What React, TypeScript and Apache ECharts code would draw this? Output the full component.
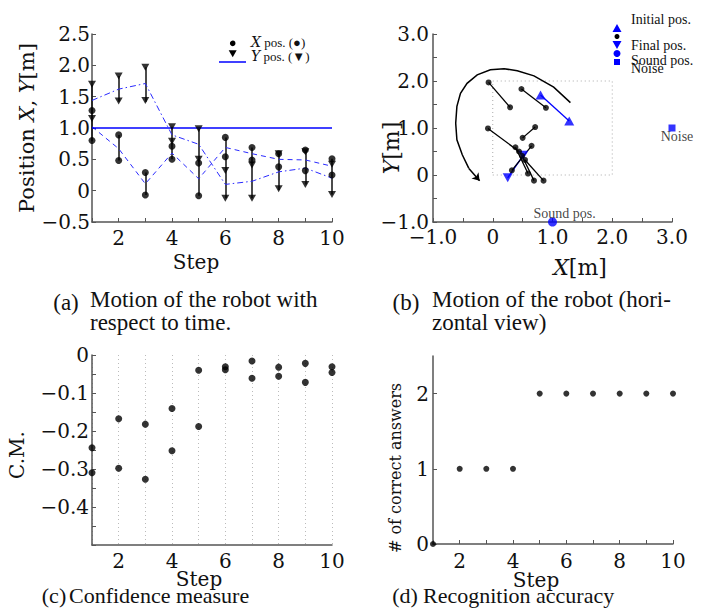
import React, { useEffect, useRef } from "react";
import * as echarts from "echarts";

// ---------- data ----------
const steps = [1, 2, 3, 4, 5, 6, 7, 8, 9, 10];
const stepLabels = [2, 4, 6, 8, 10];
// two estimated positions per step: A = (xPosA, yPosA), B = (xPosB, yPosB)
const xPosA = [0.8, 0.48, -0.07, 0.5, -0.08, 0.54, 0.49, 0.38, 0.65, 0.51];
const yPosA = [1.7, 1.83, 1.97, 0.79, 0.99, 0.32, 0.41, 0.59, 0.62, 0.42];
const xPosB = [1.28, 0.89, 0.29, 0.71, 0.44, 0.85, 0.69, 0.59, 0.32, 0.25];
const yPosB = [1.15, 1.43, 1.44, 1.02, 0.5, -0.12, -0.12, 0.03, 0.1, -0.06];
// blue broken lines of panel (a)
const xMeanLine = [1.02, 0.67, 0.11, 0.6, 0.19, 0.69, 0.59, 0.5, 0.49, 0.39];
const yMeanLine = [1.44, 1.62, 1.71, 0.89, 0.74, 0.1, 0.15, 0.3, 0.36, 0.2];
const refLevel = 1.0;
// vertical bars of panel (a): [step, low, high]
const errorBars: [number, number, number][] = [
  [1, 0.79, 1.69],
  [2, 1.42, 1.83],
  [2, 0.48, 0.89],
  [3, 1.42, 1.97],
  [3, -0.07, 0.29],
  [4, 0.5, 1.02],
  [5, -0.08, 0.99],
  [6, -0.12, 0.85],
  [7, -0.12, 0.69],
  [8, 0.01, 0.59],
  [9, 0.1, 0.65],
  [10, -0.06, 0.51],
];
// curved arrow of panel (b)
const arcX = [1.3, 1.02, 0.69, 0.41, 0.19, -0.04, -0.26, -0.43, -0.54, -0.6, -0.62, -0.6, -0.51, -0.4, -0.22];
const arcY = [1.54, 1.87, 2.11, 2.22, 2.26, 2.24, 2.13, 1.95, 1.74, 1.46, 1.1, 0.75, 0.43, 0.14, -0.12];
const boxX = [0, 2, 2, 0, 0];
const boxY = [0, 0, 2, 2, 0];
const soundPos = [1.0, -1.0];
const noisePos = [3.0, 1.0];
// panel (c)
const cmA = [-0.244, -0.168, -0.182, -0.141, -0.04, -0.031, -0.016, -0.032, -0.022, -0.031];
const cmB = [-0.31, -0.298, -0.327, -0.252, -0.188, -0.039, -0.061, -0.056, -0.072, -0.046];
// panel (d)
const correct = [0, 1, 1, 1, 2, 2, 2, 2, 2, 2];

// tick / label values
const yTicksA = [-0.5, 0, 0.5, 1, 1.5, 2, 2.5];
const ticksB = [-1, -0.5, 0, 0.5, 1, 1.5, 2, 2.5, 3];
const labelsB = [-1, 0, 1, 2, 3];
const yTicksC = [-0.5, -0.45, -0.4, -0.35, -0.3, -0.25, -0.2, -0.15, -0.1, -0.05, 0];
const yLabelsC = [-0.4, -0.3, -0.2, -0.1, 0];
const yTicksD = [0, 1, 2];

const AXF = "DejaVu Serif";
const CAPF = "Liberation Serif";
const BLUE = "#0000ff";
const AXC = "#555";
const TICKFS = 20;

const fmt1 = (v: number) => (Math.abs(v) < 1e-9 ? "0" : (v < 0 ? "\u2212" : "") + Math.abs(v).toFixed(1));
const fmtInt = (v: number) => String(Math.round(v));

function valAxis(grid: number, min: number, max: number, extra: any) {
  return {
    type: "value",
    gridIndex: grid,
    min,
    max,
    axisLine: { show: true, onZero: false, lineStyle: { color: AXC, width: 1.5 } },
    splitLine: { show: false },
    ...extra,
    axisTick: { show: true, inside: true, length: 4, lineStyle: { color: AXC }, ...(extra.axisTick || {}) },
    axisLabel: { fontFamily: AXF, fontSize: TICKFS, color: "#111", ...(extra.axisLabel || {}) },
  };
}

function txt(text: string, x: number, y: number, size: number, font: string, align = "center", rot = 0, rich?: any) {
  return {
    type: "text",
    x,
    y,
    rotation: rot,
    style: {
      text,
      fontSize: size,
      fontFamily: font,
      fill: "#111",
      align,
      verticalAlign: "middle",
      textAlign: align,
      textVerticalAlign: "middle",
      rich,
    },
  };
}

export default function App() {
  const ref = useRef<HTMLDivElement>(null);
  useEffect(() => {
    if (!ref.current) return;
    const chart = echarts.init(ref.current, undefined, { renderer: "svg" });

    const xAxis = [
      valAxis(0, 1, 10, {
        axisTick: { customValues: steps },
        axisLabel: { customValues: stepLabels, formatter: fmtInt, margin: 6 },
      }),
      valAxis(1, -1, 3, {
        axisTick: { customValues: ticksB },
        axisLabel: { customValues: labelsB, formatter: fmt1, margin: 5 },
      }),
      valAxis(2, 1, 10, {
        interval: 1,
        axisTick: { show: false },
        splitLine: { show: true, lineStyle: { type: [1, 3], color: "#bbb", width: 1 } },
        axisLabel: { customValues: stepLabels, formatter: fmtInt, margin: 6 },
      }),
      valAxis(3, 1, 10, {
        axisTick: { customValues: steps },
        axisLabel: { customValues: stepLabels, formatter: fmtInt, margin: 7 },
      }),
    ];
    const yAxis = [
      valAxis(0, -0.5, 2.5, {
        axisTick: { customValues: yTicksA },
        axisLabel: { customValues: yTicksA, formatter: fmt1, margin: 2 },
      }),
      valAxis(1, -1, 3, {
        axisTick: { customValues: ticksB },
        axisLabel: { customValues: labelsB, formatter: fmt1, margin: 4 },
      }),
      valAxis(2, -0.5, 0, {
        axisTick: { customValues: yTicksC },
        axisLabel: { customValues: yLabelsC, formatter: fmt1, margin: 3 },
      }),
      valAxis(3, 0, 2.5, {
        axisTick: { customValues: yTicksD },
        axisLabel: { customValues: yTicksD, formatter: fmtInt, margin: 4 },
      }),
    ];

    const idx = (g: number) => ({ xAxisIndex: g, yAxisIndex: g });
    const mid = steps.slice(1, 9).map((s) => s - 1);
    const nArc = arcX.length;

    const series: any[] = [
      // ---- panel (a)
      {
        type: "lines",
        coordinateSystem: "cartesian2d",
        ...idx(0),
        data: errorBars.map(([s, lo, hi]) => ({ coords: [[s, lo], [s, hi]] })),
        lineStyle: { color: "#111", width: 1.5, opacity: 1 },
        z: 2,
      },
      {
        type: "line",
        ...idx(0),
        data: steps.map((s, i) => [s, xMeanLine[i]]),
        symbol: "none",
        lineStyle: { color: "#2a2aff", width: 1, type: [5, 4] },
        z: 3,
      },
      {
        type: "line",
        ...idx(0),
        data: steps.map((s, i) => [s, yMeanLine[i]]),
        symbol: "none",
        lineStyle: { color: "#2a2aff", width: 1, type: [6, 3, 1.5, 3] },
        z: 3,
      },
      {
        type: "line",
        ...idx(0),
        data: [
          [steps[0], refLevel],
          [steps[steps.length - 1], refLevel],
        ],
        symbol: "none",
        lineStyle: { color: BLUE, width: 1.5 },
        z: 3,
      },
      {
        type: "scatter",
        ...idx(0),
        clip: false,
        data: steps.flatMap((s, i) => [
          [s, xPosA[i]],
          [s, xPosB[i]],
        ]),
        symbol: "circle",
        symbolSize: 7,
        itemStyle: { color: "#000" },
        z: 4,
      },
      {
        type: "scatter",
        ...idx(0),
        clip: false,
        data: steps.flatMap((s, i) => [
          [s, yPosA[i]],
          [s, yPosB[i]],
        ]),
        symbol: "triangle",
        symbolRotate: 180,
        symbolSize: [8, 7],
        itemStyle: { color: "#000" },
        z: 4,
      },
      // ---- panel (b)
      {
        type: "lines",
        coordinateSystem: "cartesian2d",
        ...idx(1),
        polyline: true,
        data: [{ coords: boxX.map((x, i) => [x, boxY[i]]) }],
        lineStyle: { color: "#aaa", width: 1, type: [1, 3], opacity: 1 },
        z: 1,
      },
      {
        type: "lines",
        coordinateSystem: "cartesian2d",
        ...idx(1),
        polyline: true,
        data: [{ coords: arcX.slice(0, nArc - 1).map((x, i) => [x, arcY[i]]) }],
        lineStyle: { color: "#000", width: 1.5, opacity: 1 },
        z: 2,
      },
      {
        type: "lines",
        coordinateSystem: "cartesian2d",
        ...idx(1),
        symbol: ["none", "arrow"],
        symbolSize: 7,
        data: [
          {
            coords: [
              [arcX[nArc - 2], arcY[nArc - 2]],
              [arcX[nArc - 1], arcY[nArc - 1]],
            ],
          },
        ],
        lineStyle: { color: "#000", width: 1.5, opacity: 1, curveness: 0 },
        z: 2,
      },
      {
        type: "lines",
        coordinateSystem: "cartesian2d",
        ...idx(1),
        data: [0, 9].map((i) => ({
          coords: [
            [xPosA[i], yPosA[i]],
            [xPosB[i], yPosB[i]],
          ],
        })),
        lineStyle: { color: BLUE, width: 1.3, opacity: 1 },
        z: 2,
      },
      {
        type: "lines",
        coordinateSystem: "cartesian2d",
        ...idx(1),
        data: mid.map((i) => ({
          coords: [
            [xPosA[i], yPosA[i]],
            [xPosB[i], yPosB[i]],
          ],
        })),
        lineStyle: { color: "#000", width: 1.3, opacity: 1 },
        z: 3,
      },
      {
        type: "scatter",
        ...idx(1),
        clip: false,
        data: [
          [xPosA[0], yPosA[0]],
          [xPosB[0], yPosB[0]],
        ],
        symbol: "triangle",
        symbolSize: [10, 9],
        itemStyle: { color: BLUE },
        z: 4,
      },
      {
        type: "scatter",
        ...idx(1),
        clip: false,
        data: [
          [xPosA[9], yPosA[9]],
          [xPosB[9], yPosB[9]],
        ],
        symbol: "triangle",
        symbolRotate: 180,
        symbolSize: [10, 9],
        itemStyle: { color: BLUE },
        z: 4,
      },
      {
        type: "scatter",
        ...idx(1),
        clip: false,
        data: mid.flatMap((i) => [
          [xPosA[i], yPosA[i]],
          [xPosB[i], yPosB[i]],
        ]),
        symbol: "circle",
        symbolSize: 6,
        itemStyle: { color: "#000" },
        z: 5,
      },
      {
        type: "scatter",
        ...idx(1),
        clip: false,
        data: [soundPos],
        symbol: "circle",
        symbolSize: 9,
        itemStyle: { color: BLUE },
        label: {
          show: true,
          position: "top",
          distance: 0,
          offset: [12, 3],
          formatter: "Sound pos.",
          fontFamily: CAPF,
          fontSize: 14,
          color: "#111",
        },
        z: 5,
      },
      {
        type: "scatter",
        ...idx(1),
        clip: false,
        data: [noisePos],
        symbol: "rect",
        symbolSize: 7,
        itemStyle: { color: BLUE },
        label: {
          show: true,
          position: "bottom",
          distance: 0,
          offset: [5, -2],
          formatter: "Noise",
          fontFamily: CAPF,
          fontSize: 14,
          color: "#111",
        },
        z: 5,
      },
      // ---- panel (c)
      {
        type: "scatter",
        ...idx(2),
        clip: false,
        data: steps.flatMap((s, i) => [
          [s, cmA[i]],
          [s, cmB[i]],
        ]),
        symbol: "circle",
        symbolSize: 7,
        itemStyle: { color: "#000" },
      },
      // ---- panel (d)
      {
        type: "scatter",
        ...idx(3),
        clip: false,
        data: steps.map((s, i) => [s, correct[i]]),
        symbol: "circle",
        symbolSize: 6,
        itemStyle: { color: "#000" },
      },
    ];

    const tri = (cx: number, cy: number, up: boolean) => ({
      type: "polygon",
      shape: {
        points: up
          ? [
              [cx - 4.5, cy + 4],
              [cx + 4.5, cy + 4],
              [cx, cy - 4],
            ]
          : [
              [cx - 4.5, cy - 4],
              [cx + 4.5, cy - 4],
              [cx, cy + 4],
            ],
      },
      style: { fill: BLUE },
    });

    const richAB = {
      i: { fontFamily: AXF, fontStyle: "italic", fontSize: 14, fill: "#111" },
      s: { fontFamily: CAPF, fontSize: 13, fill: "#111" },
    };

    const graphic: any[] = [
      // legend (a)
      { type: "circle", shape: { cx: 232.7, cy: 43.3, r: 2.8 }, style: { fill: "#000" } },
      {
        type: "polygon",
        shape: { points: [[228.7, 50.3], [236.7, 50.3], [232.7, 57.3]] },
        style: { fill: "#000" },
      },
      { type: "line", shape: { x1: 219, y1: 62, x2: 246, y2: 62 }, style: { stroke: BLUE, lineWidth: 1.5 } },
      txt("{i|X} {s|pos. (●)}", 251, 42, 13, CAPF, "left", 0, richAB),
      txt("{i|Y} {s|pos. (▼)}", 251, 56, 13, CAPF, "left", 0, richAB),
      // legend (b)
      tri(617, 28, true),
      { type: "circle", shape: { cx: 617, cy: 36.5, r: 2.5 }, style: { fill: "#000" } },
      tri(617, 45, false),
      { type: "circle", shape: { cx: 617, cy: 53.5, r: 3.5 }, style: { fill: BLUE } },
      { type: "rect", shape: { x: 614, y: 59, width: 6, height: 6 }, style: { fill: BLUE } },
      txt("Initial pos.", 631, 19, 14, CAPF, "left"),
      txt("Final pos.", 631, 45, 14, CAPF, "left"),
      txt("Sound pos.", 631, 60, 14, CAPF, "left"),
      txt("Noise", 631, 68, 14, CAPF, "left"),
      // axis names
      txt("Position {i|X}, {i|Y}[m]", 27, 128, 21, AXF, "center", Math.PI / 2, {
        i: { fontFamily: AXF, fontStyle: "italic", fontSize: 21, fill: "#111" },
      }),
      txt("Step", 196, 262, 20, AXF),
      txt("{i|Y}[m]", 391, 148, 22, AXF, "center", Math.PI / 2, {
        i: { fontFamily: AXF, fontStyle: "italic", fontSize: 22, fill: "#111" },
      }),
      txt("{i|X}[m]", 580, 267, 22, AXF, "center", 0, {
        i: { fontFamily: AXF, fontStyle: "italic", fontSize: 22, fill: "#111" },
      }),
      txt("C.M.", 17, 455, 20, AXF, "center", Math.PI / 2),
      txt("Step", 199, 579, 20, AXF),
      txt("# of correct answers", 395, 468, 16, AXF, "center", Math.PI / 2),
      txt("Step", 536, 580, 20, AXF),
      // captions
      txt("(a)", 66, 302, 23, CAPF),
      txt("Motion of the robot with", 90, 299, 23, CAPF, "left"),
      txt("respect to time.", 90, 322, 23, CAPF, "left"),
      txt("(b)", 406, 302, 23, CAPF),
      txt("Motion of the robot (hori-", 432, 299, 23, CAPF, "left"),
      txt("zontal view)", 432, 322, 23, CAPF, "left"),
      txt("(c)", 54, 595, 22, CAPF),
      txt("Confidence measure", 69, 595, 22, CAPF, "left"),
      txt("(d)", 405, 595, 22, CAPF),
      txt("Recognition accuracy", 423, 595, 22, CAPF, "left"),
    ];

    chart.setOption({
      animation: false,
      backgroundColor: "#fff",
      grid: [
        { left: 92, top: 34, width: 240, height: 188 },
        { left: 433, top: 34, width: 239, height: 188 },
        { left: 92, top: 355, width: 240, height: 190 },
        { left: 433, top: 356, width: 240, height: 188 },
      ],
      xAxis,
      yAxis,
      series,
      graphic,
    });
    return () => chart.dispose();
  }, []);
  return (
    <div
      ref={ref}
      style={{ position: "absolute", left: 0, top: 0, width: 701, height: 608, background: "#fff" }}
    />
  );
}
